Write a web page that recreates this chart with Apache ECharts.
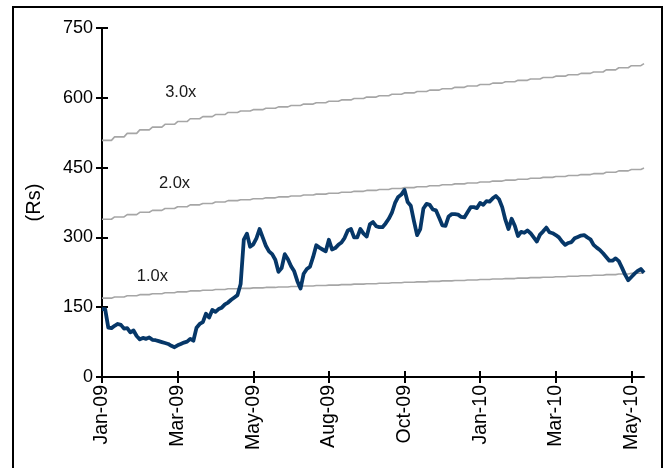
<!DOCTYPE html>
<html>
<head>
<meta charset="utf-8">
<script src="https://cdn.jsdelivr.net/npm/echarts@6/dist/echarts.min.js"></script>
<style>html,body{margin:0;padding:0;background:#fff;}#c{width:672px;height:468px;}</style>
</head>
<body>
<div id="c"></div>
<script>
// Tick labels shown every 24 points along the category axis
var tickLabels = ['Jan-09','Mar-09','May-09','Aug-09','Oct-09','Jan-10','Mar-10','May-10'];
var tickEvery = 24;

// Share price (Rs)
var price = [146,146,106,105,110,114,112,104,105,96,100,88,81,84,82,85,80,79,77,75,
73,71,67,64,68,71,74,76,82,78,106,114,118,136,128,144,140,146,149,156,
160,166,171,176,200,295,308,280,285,298,318,300,282,270,264,252,226,234,264,253,
238,227,206,190,222,232,237,258,283,278,274,270,295,274,277,284,289,299,315,318,
300,300,318,308,302,328,333,324,322,322,330,340,353,374,387,392,402,376,368,335,
305,318,362,372,370,360,358,342,326,325,345,350,350,349,344,343,354,365,365,363,
374,370,378,377,384,389,382,365,338,318,340,325,303,312,310,315,309,300,291,306,
313,321,311,309,305,300,291,284,288,290,298,301,304,305,300,296,284,278,273,266,
258,250,250,255,249,235,220,208,215,222,228,232,224];

// Forward EPS (Rs) used for the P/E bands
var eps = [169.5,169.5,169.5,169.5,172,172,172,172,174.5,174.5,174.5,174.5,177,177,177,177,
179,179,179,179,181,181,181,181,183,183,183,183,185,185,185,185,186.5,186.5,186.5,186.5,
188,188,188,188,189.5,189.5,189.5,189.5,190.5,190.5,190.5,190.5,191.5,191.5,191.5,191.5,
192.5,192.5,192.5,192.5,193.5,193.5,193.5,193.5,194.5,194.5,194.5,194.5,195.5,195.5,195.5,195.5,
196.5,196.5,196.5,196.5,197.5,197.5,197.5,197.5,198.5,198.5,198.5,198.5,199.5,199.5,199.5,199.5,
200.5,200.5,200.5,200.5,201.5,201.5,201.5,201.5,202.5,202.5,202.5,202.5,203.5,203.5,203.5,203.5,
204.5,204.5,204.5,204.5,205.5,205.5,205.5,205.5,206.5,206.5,206.5,206.5,207.5,207.5,207.5,207.5,
208.5,208.5,208.5,208.5,209.5,209.5,209.5,209.5,210.5,210.5,210.5,210.5,211.5,211.5,211.5,211.5,
212.5,212.5,212.5,212.5,213.5,213.5,213.5,213.5,214.5,214.5,214.5,214.5,215.5,215.5,215.5,215.5,
216.5,216.5,216.5,216.5,217.5,217.5,217.5,217.5,218.5,218.5,218.5,218.5,220,220,220,220,
221.5,221.5,221.5,221.5,223,223,223,223,224.5];

var bandMultiples = [1, 2, 3];
var bandNames = ['1.0x','2.0x','3.0x'];
// where each band label sits: [category index, value]
var bandLabelAt = [[16, 217], [23, 416], [25, 611]];

// categories: trading dates (every second weekday from 2 Jan 2009)
var categories = [];
(function(){
  var d = new Date(2009, 0, 1);
  for (var i = 0; i < price.length; i++) {
    categories.push(d.getFullYear() + '-' + (d.getMonth()+1) + '-' + d.getDate());
    var n = 0;
    while (n < 2) { d.setDate(d.getDate() + 1); var wd = d.getDay(); if (wd !== 0 && wd !== 6) n++; }
  }
})();

var FONT = 'Liberation Sans, Arial, sans-serif';
var chart = echarts.init(document.getElementById('c'), null, {renderer: 'canvas'});

var series = [];
bandMultiples.forEach(function(m, k){
  series.push({
    type: 'line', name: bandNames[k], data: eps.map(function(e){ return +(e*m).toFixed(2); }),
    symbol: 'none', silent: true, z: 2,
    lineStyle: {color: '#a6a6a6', width: 1.6},
    markPoint: {
      symbol: 'circle', symbolSize: 0, silent: true,
      data: [{coord: [bandLabelAt[k][0], bandLabelAt[k][1]], value: bandNames[k]}],
      label: {show: true, formatter: bandNames[k], color: '#1a1a1a', fontSize: 16.5, fontFamily: FONT, position: 'inside'}
    }
  });
});
series.push({
  type: 'line', name: 'Price', data: price, symbol: 'none', z: 5,
  lineStyle: {color: '#063768', width: 3.8, join: 'round'}
});

var axisLbl = {color: '#000', fontSize: 18, fontFamily: FONT};

chart.setOption({
  animation: false,
  backgroundColor: '#fff',
  grid: {left: 102, right: 28, top: 28, bottom: 91},
  xAxis: [{
    type: 'category', data: categories, boundaryGap: false, position: 'bottom',
    axisLine: {lineStyle: {color: '#000', width: 2}},
    axisTick: {show: true, interval: tickEvery - 1, length: 6, inside: false, lineStyle: {color: '#000', width: 2}},
    axisLabel: Object.assign({}, axisLbl, {fontSize: 19.5, interval: tickEvery - 1, rotate: 90, margin: 8,
      formatter: function(v, idx){ return tickLabels[Math.round(idx / tickEvery)] || ''; }}),
    splitLine: {show: false}
  }, {
    type: 'category', data: categories, boundaryGap: false, position: 'bottom',
    axisLine: {show: false},
    axisTick: {show: true, interval: tickEvery - 1, length: 6, inside: true, lineStyle: {color: '#000', width: 2}},
    axisLabel: {show: false}, splitLine: {show: false}
  }],
  yAxis: [{
    type: 'value', min: 0, max: 750, interval: 150, position: 'left',
    name: '(Rs)', nameLocation: 'middle', nameGap: 58, nameRotate: 90,
    nameTextStyle: {color: '#000', fontSize: 20, fontFamily: FONT},
    axisLine: {show: true, lineStyle: {color: '#000', width: 2}},
    axisTick: {show: true, length: 6, lineStyle: {color: '#000', width: 2}},
    axisLabel: Object.assign({}, axisLbl, {margin: 9}),
    splitLine: {show: false}
  }, {
    type: 'value', min: 0, max: 750, interval: 150, position: 'left',
    axisLine: {show: false},
    axisTick: {show: true, inside: true, length: 6, lineStyle: {color: '#000', width: 2}},
    axisLabel: {show: false}, splitLine: {show: false}
  }],
  series: series,
  graphic: [{
    type: 'rect', silent: true, z: 100,
    shape: {x: 13, y: 7, width: 649, height: 480},
    style: {fill: 'none', stroke: '#000', lineWidth: 2}
  }]
});
</script>
</body>
</html>
